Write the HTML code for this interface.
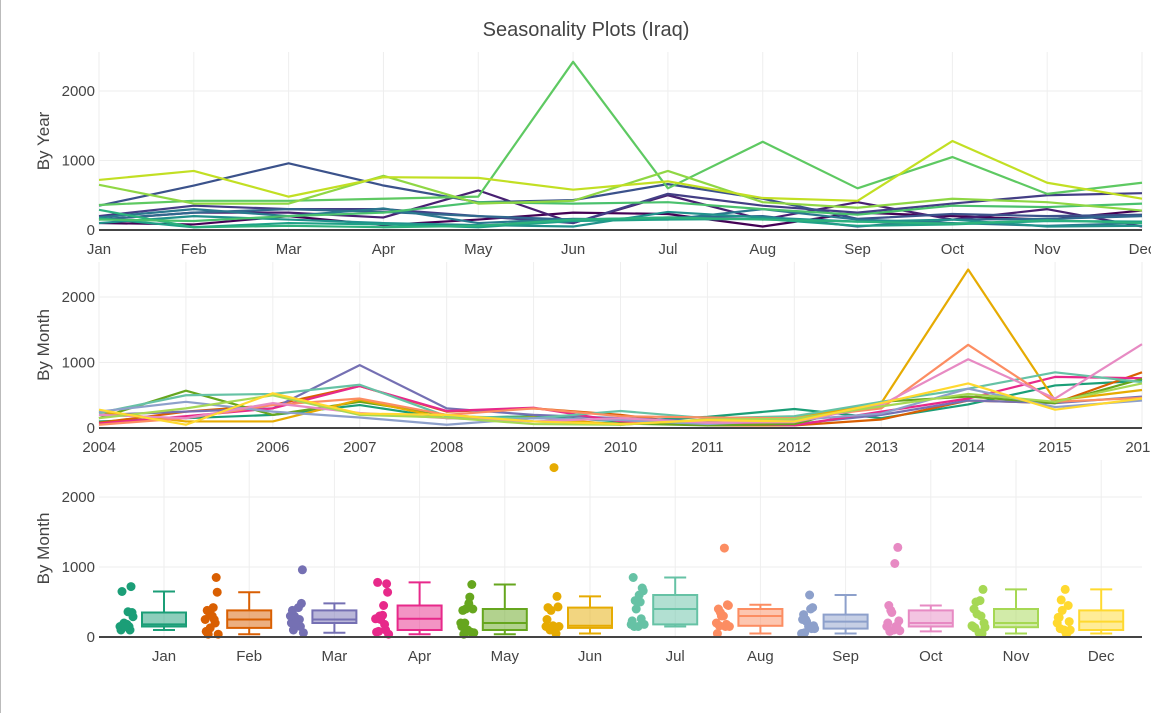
<!DOCTYPE html>
<html><head><meta charset="utf-8">
<style>
html,body{margin:0;padding:0;background:#fff;}
svg{display:block;font-family:"Liberation Sans",sans-serif;}
</style></head>
<body>
<svg id="chart" width="1168" height="713" viewBox="0 0 1168 713">
<rect x="0" y="0" width="1168" height="713" fill="#fff"/>
<line x1="0.5" y1="0" x2="0.5" y2="713" stroke="#bbb" stroke-width="1"/>
<text x="586" y="36" text-anchor="middle" font-size="20" fill="#444">Seasonality Plots (Iraq)</text>
<g id="g1"></g>
<g id="g2"></g>
<g id="g3"></g>
<rect x="1151" y="0" width="17" height="713" fill="#fff"/>
</svg>
<script>
const months = ["Jan","Feb","Mar","Apr","May","Jun","Jul","Aug","Sep","Oct","Nov","Dec"];
const years = [2004,2005,2006,2007,2008,2009,2010,2011,2012,2013,2014,2015,2016];
const yTicks = [0,1000,2000];
const v2004 = [100,80,200,70,150,250,230,50,250,200,150,280];
const v2005 = [150,250,250,180,570,100,500,150,400,150,300,50];
const v2006 = [200,350,300,300,200,100,520,350,250,380,500,530];
const v2007 = [350,640,960,640,400,430,660,450,160,230,200,220];
const v2008 = [150,250,300,260,200,150,180,200,50,150,160,200];
const v2009 = [180,300,200,310,100,160,150,300,150,100,60,100];
const v2010 = [100,200,150,100,70,50,260,180,120,150,50,60];
const v2011 = [170,40,100,80,40,130,150,160,60,80,130,120];
const v2012 = [290,40,60,40,60,150,180,150,120,90,140,100];
const v2013 = [150,130,200,250,400,380,400,300,220,350,330,380];
const v2014 = [360,420,420,450,480,2420,600,1270,600,1050,520,680];
const v2015 = [650,380,380,780,380,420,850,400,320,450,400,280];
const v2016 = [720,850,480,760,750,580,700,460,420,1280,680,450];
const data = [v2004,v2005,v2006,v2007,v2008,v2009,v2010,v2011,v2012,v2013,v2014,v2015,v2016];

const yearColors = ["#440154","#482071","#433e85","#3b528b","#31688e","#2a788e","#21918c","#1fa187","#2db27d","#4ac16d","#5ec962","#8fd744","#c2df23"];
const monthColors = ["#1b9e77","#d95f02","#7570b3","#e7298a","#66a61e","#e6ab02","#66c2a5","#fc8d62","#8da0cb","#e78ac3","#a6d854","#ffd92f"];
const jit = [-5,3,-2,6,-6,1,4,-3,7,-1,2,-4,5];

const NS="http://www.w3.org/2000/svg";
function mk(tag,attrs,parent){const e=document.createElementNS(NS,tag);for(const k in attrs)e.setAttribute(k,attrs[k]);parent.appendChild(e);return e;}
const L=99,R=1142;

function axes(g,top,y0,scale,title,xt,xl){
  yTicks.forEach(t=>{
    const y=y0-t*scale;
    if(t>0){const gl=mk('line',{x1:L,x2:R,y1:y,y2:y,stroke:'#eee','stroke-width':1},g);
      
      }
    const tx=mk('text',{x:L-4,y:y+5,'text-anchor':'end','font-size':15,fill:'#444'},g);
    tx.textContent=t;
    
    
  });
  xt.forEach((x,i)=>{
    const gl=mk('line',{x1:x,x2:x,y1:top,y2:y0,stroke:'#eee','stroke-width':1},g);
    
    
    const tx=mk('text',{x:x,y:y0+24,'text-anchor':'middle','font-size':15,fill:'#444'},g);
    tx.textContent=xl[i];
    
    
  });
  const at=mk('text',{x:0,y:0,'text-anchor':'middle','font-size':17,fill:'#444',transform:`translate(49,${(top+y0)/2}) rotate(-90)`},g);
  at.textContent=title;
  
  
}
function zero(g,y0){
  const z=mk('line',{x1:L,x2:R,y1:y0,y2:y0,stroke:'#444','stroke-width':2},g);
  
  
}

(function(){
  const g=document.getElementById('g1'),top=52,y0=230,s=0.0695;
  const X=i=>L+i*(R-L)/11, Y=v=>y0-v*s;
  axes(g,top,y0,s,'By Year',months.map((m,i)=>X(i)),months);
  data.forEach((row,k)=>{
    const p=mk('polyline',{points:row.map((v,i)=>X(i)+','+Y(v)).join(' '),fill:'none',stroke:yearColors[k],'stroke-width':2.2,'stroke-linejoin':'round'},g);
    
    
  });
  zero(g,y0);
})();

(function(){
  const g=document.getElementById('g2'),top=262,y0=428,s=0.0655;
  const X=j=>L+j*(R-L)/12, Y=v=>y0-v*s;
  axes(g,top,y0,s,'By Month',years.map((y,j)=>X(j)),years);
  months.forEach((m,i)=>{
    const p=mk('polyline',{points:data.map((row,j)=>X(j)+','+Y(row[i])).join(' '),fill:'none',stroke:monthColors[i],'stroke-width':2.2,'stroke-linejoin':'round'},g);
    
    
  });
  zero(g,y0);
})();

(function(){
  const g=document.getElementById('g3'),top=460,y0=637,s=0.070;
  const C=i=>164+i*85.2, Y=v=>y0-v*s;
  axes(g,top,y0,s,'By Month',months.map((m,i)=>C(i)),months);
  function q(a,p){const pos=(a.length-1)*p,lo=Math.floor(pos),hi=Math.ceil(pos);return a[lo]+(a[hi]-a[lo])*(pos-lo);}
  months.forEach((m,i)=>{
    const vals=data.map(r=>r[i]);
    const sv=vals.slice().sort((a,b)=>a-b);
    const q1=q(sv,0.25),med=q(sv,0.5),q3=q(sv,0.75),iqr=q3-q1;
    const lo=sv.find(v=>v>=q1-1.5*iqr), hi=sv.filter(v=>v<=q3+1.5*iqr).pop();
    const cx=C(i),w=44,col=monthColors[i];
    const bg=mk('g',{},g);
    
    
    mk('line',{x1:cx,x2:cx,y1:Y(q3),y2:Y(hi),stroke:col,'stroke-width':2},bg);
    mk('line',{x1:cx,x2:cx,y1:Y(q1),y2:Y(lo),stroke:col,'stroke-width':2},bg);
    mk('line',{x1:cx-w/4,x2:cx+w/4,y1:Y(hi),y2:Y(hi),stroke:col,'stroke-width':2},bg);
    mk('line',{x1:cx-w/4,x2:cx+w/4,y1:Y(lo),y2:Y(lo),stroke:col,'stroke-width':2},bg);
    mk('rect',{x:cx-w/2,y:Y(q3),width:w,height:Y(q1)-Y(q3),fill:col,'fill-opacity':0.5,stroke:col,'stroke-width':2},bg);
    mk('line',{x1:cx-w/2,x2:cx+w/2,y1:Y(med),y2:Y(med),stroke:col,'stroke-width':2},bg);
    vals.forEach((v,k)=>{
      const c=mk('circle',{cx:cx-38+jit[k],cy:Y(v),r:4.5,fill:col},g);
      
      
    });
  });
  zero(g,y0);
})();
</script>
</body></html>
